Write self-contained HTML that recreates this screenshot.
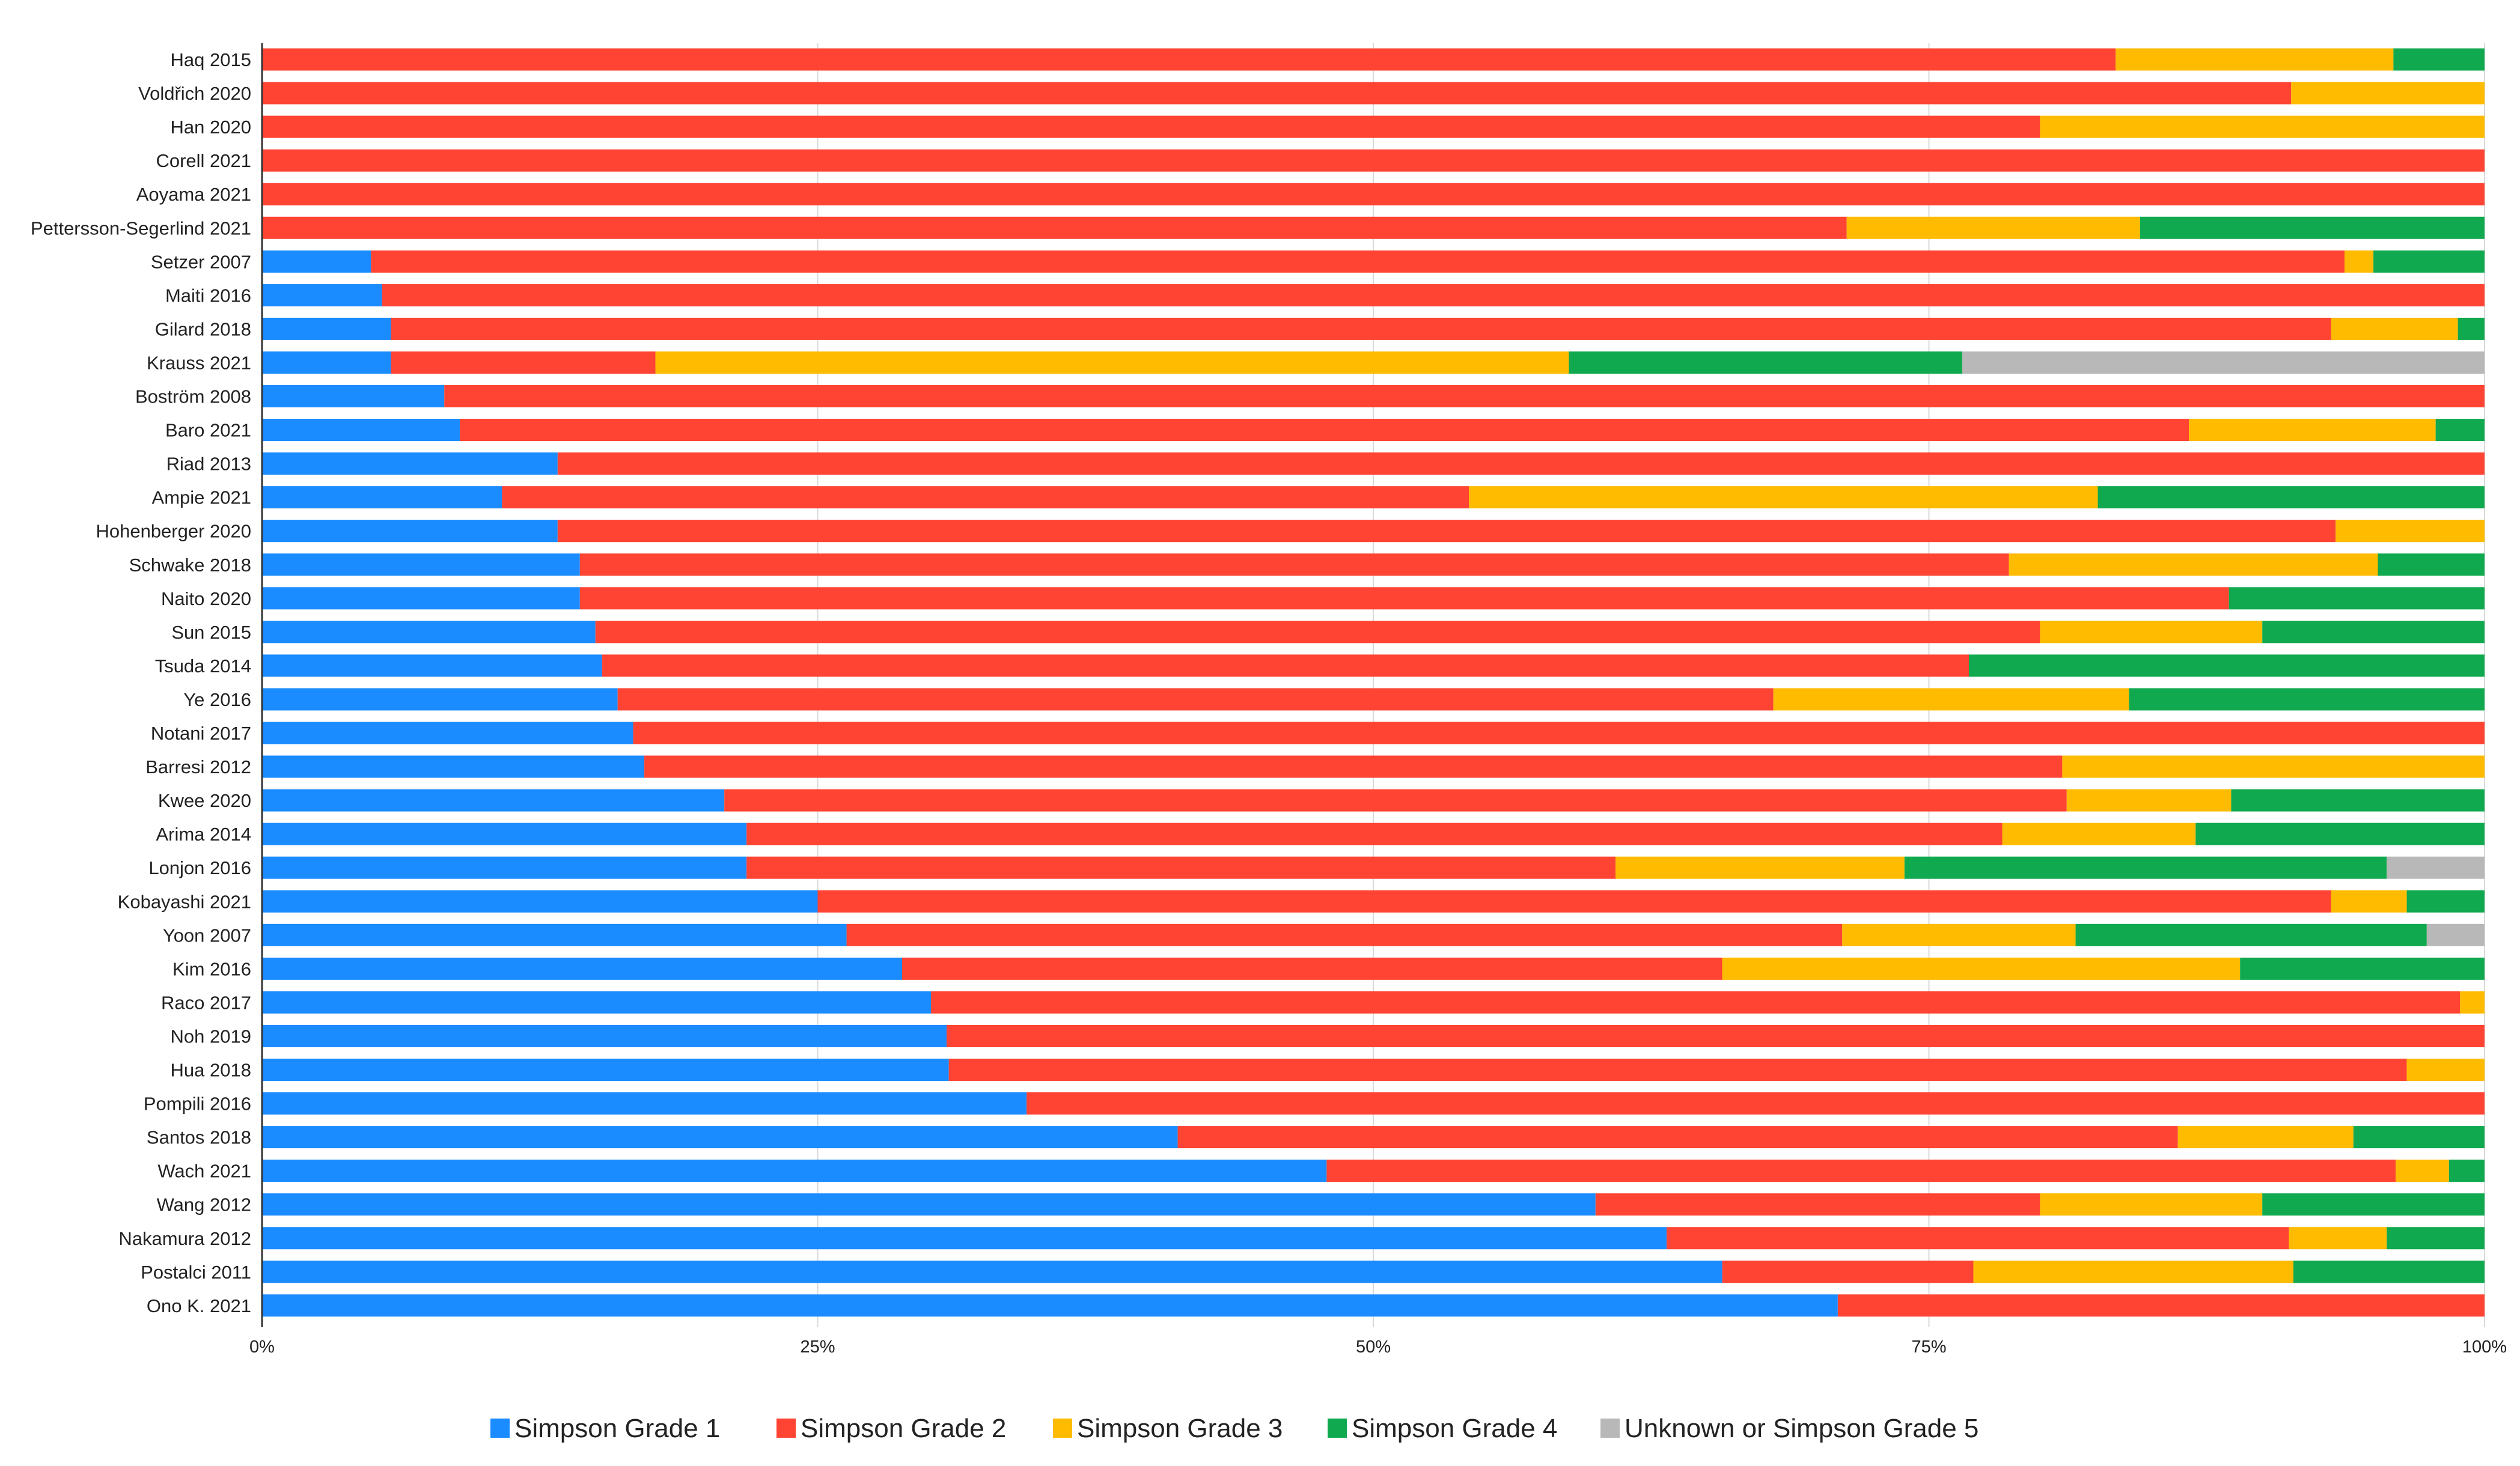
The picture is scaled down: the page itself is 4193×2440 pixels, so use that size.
<!DOCTYPE html>
<html><head><meta charset="utf-8"><style>
body{margin:0;background:#fff;}
svg{display:block;font-family:"Liberation Sans",Arial,sans-serif;}
</style></head><body>
<svg id="chart" width="4193" height="2440" viewBox="0 0 4193 2440"></svg>
<script>
const categories=["Haq 2015","Voldřich 2020","Han 2020","Corell 2021","Aoyama 2021","Pettersson-Segerlind 2021","Setzer 2007","Maiti 2016","Gilard 2018","Krauss 2021","Boström 2008","Baro 2021","Riad 2013","Ampie 2021","Hohenberger 2020","Schwake 2018","Naito 2020","Sun 2015","Tsuda 2014","Ye 2016","Notani 2017","Barresi 2012","Kwee 2020","Arima 2014","Lonjon 2016","Kobayashi 2021","Yoon 2007","Kim 2016","Raco 2017","Noh 2019","Hua 2018","Pompili 2016","Santos 2018","Wach 2021","Wang 2012","Nakamura 2012","Postalci 2011","Ono K. 2021"];
const grade1=[0,0,0,0,0,0,4.9,5.4,5.8,5.8,8.2,8.9,13.3,10.8,13.3,14.3,14.3,15,15.3,16,16.7,17.2,20.8,21.8,21.8,25,26.3,28.8,30.1,30.8,30.9,34.4,41.2,47.9,60,63.2,65.7,70.9];
const grade2=[83.4,91.3,80,100,100,71.3,88.8,94.6,87.3,11.9,91.8,77.8,86.7,43.5,80,64.3,74.2,65,61.5,52,83.3,63.8,60.4,56.5,39.1,68.1,44.8,36.9,68.8,69.2,65.6,65.6,45,48.1,20,28,11.3,29.1];
const grade3=[12.5,8.7,20,0,0,13.2,1.3,0,5.7,41.1,0,11.1,0,28.3,6.7,16.6,0,10,0,16,0,19,7.4,8.7,13,3.4,10.5,23.3,1.1,0,3.5,0,7.9,2.4,10,4.4,14.4,0];
const grade4=[4.1,0,0,0,0,15.5,5,0,1.2,17.7,0,2.2,0,17.4,0,4.8,11.5,10,23.2,16,0,0,11.4,13,21.7,3.5,15.8,11,0,0,0,0,5.9,1.6,10,4.4,8.6,0];
const grade5=[0,0,0,0,0,0,0,0,0,23.5,0,0,0,0,0,0,0,0,0,0,0,0,0,0,4.4,0,2.6,0,0,0,0,0,0,0,0,0,0,0];
const seriesNames=["Simpson Grade 1","Simpson Grade 2","Simpson Grade 3","Simpson Grade 4","Unknown or Simpson Grade  5"];
const tickValues=[0,25,50,75,100];
const tickLabels=["0%","25%","50%","75%","100%"];

const colors=["#1a8cff","#ff4433","#ffbb00","#10a94f","#b8b8b8"];
const series=[grade1,grade2,grade3,grade4,grade5];
const NS="http://www.w3.org/2000/svg";
const svg=document.getElementById("chart");
const X0=436,X1=4134,Y0=72,Y1=2209,ROW0=99,STEP=56.05,BH=37;
const xs=v=>X0+(X1-X0)*Math.min(v,100)/100;
const ys=i=>ROW0+i*STEP;
function mk(tag,attrs){const e=document.createElementNS(NS,tag);for(const k in attrs)e.setAttribute(k,attrs[k]);svg.appendChild(e);return e;}
tickValues.forEach((t,i)=>{
  if(t>0){const g=mk("line",{x1:xs(t),x2:xs(t),y1:Y0,y2:Y1,stroke:"#d9d9d9","stroke-width":2});
  
  }
  const tx=mk("text",{x:xs(t),y:2251,"font-size":29,"text-anchor":"middle",fill:"#222"});
  tx.textContent=tickLabels[i];
  
  
});
categories.forEach((c,i)=>{
  let acc=0;
  let last=-1;
  series.forEach((s,k)=>{if(s[i]>0)last=k;});
  series.forEach((s,k)=>{
    const v=s[i];
    if(v>0){
      const end=(k===last)?100:acc+v;
      const r=mk("rect",{x:xs(acc),y:ys(i)-BH/2,width:xs(end)-xs(acc),height:BH,fill:colors[k]});
      
      
    }
    acc+=v;
  });
  const t=mk("text",{x:X0-18,y:ys(i)+11,"font-size":31,"text-anchor":"end",fill:"#222"});
  t.textContent=c;
  
  
});
const ax=mk("line",{x1:X0,x2:X0,y1:Y0,y2:Y1,stroke:"#333","stroke-width":3});


const legX=[816,1292,1752,2209,2663];
seriesNames.forEach((n,k)=>{
  const sq=mk("rect",{x:legX[k],y:2361,width:32,height:32,fill:colors[k]});
  
  
  const t=mk("text",{x:legX[k]+40,y:2392,"font-size":44,fill:"#222"});
  t.textContent=n;
  
  
});
</script>
</body></html>
